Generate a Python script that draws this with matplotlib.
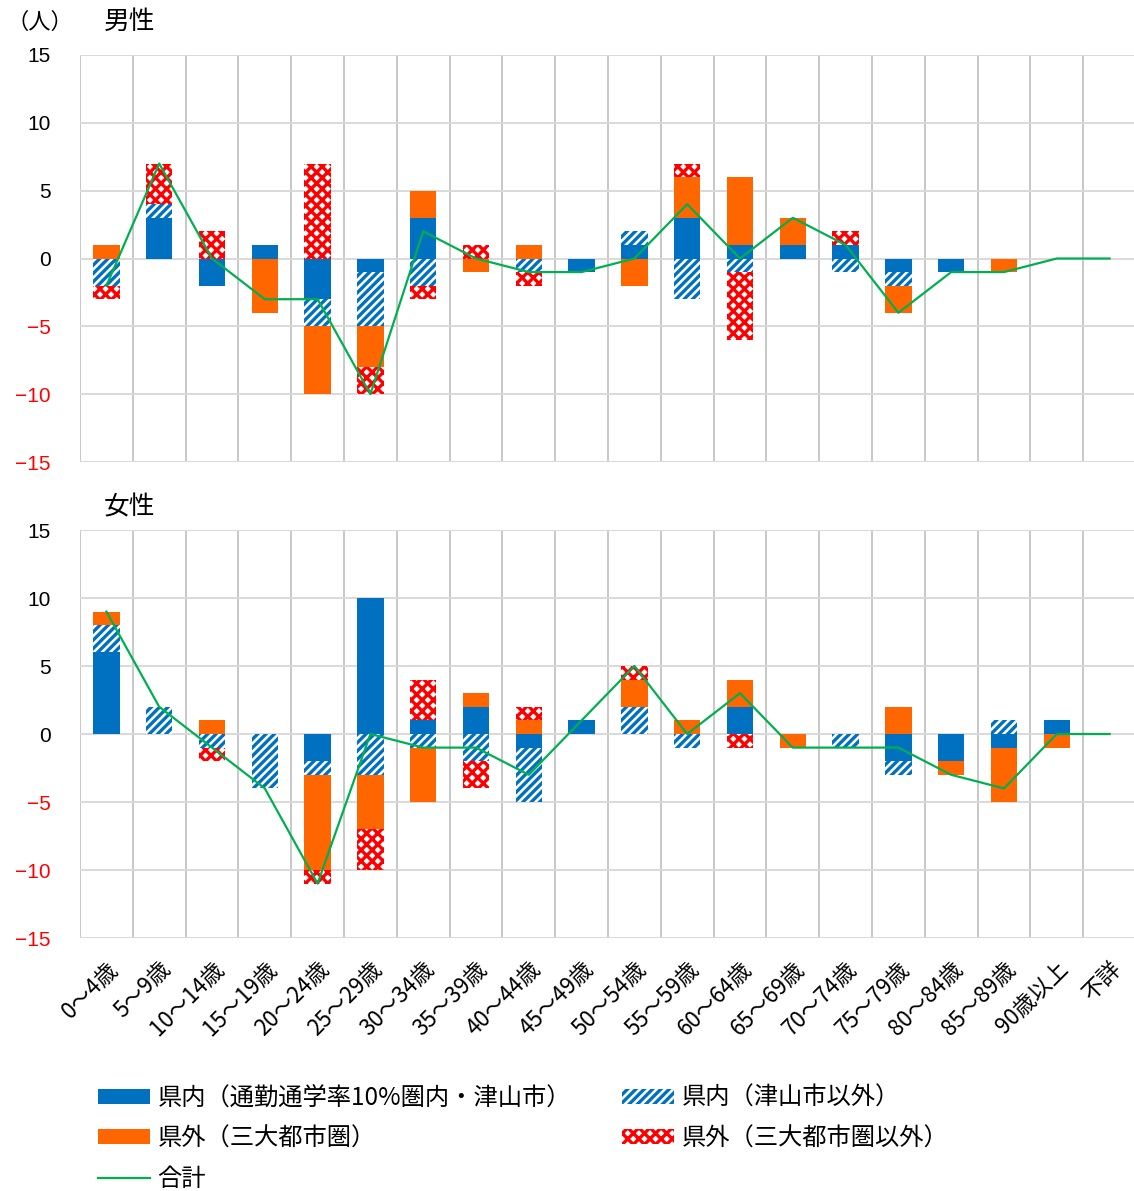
import numpy as np
import matplotlib.pyplot as plt
from matplotlib.patches import Patch
from matplotlib.lines import Line2D

plt.rcParams['font.family'] = ['Noto Sans CJK JP', 'DejaVu Sans']
plt.rcParams['hatch.linewidth'] = 2.4

ages = ['0～4歳', '5～9歳', '10～14歳', '15～19歳', '20～24歳', '25～29歳',
        '30～34歳', '35～39歳', '40～44歳', '45～49歳', '50～54歳', '55～59歳',
        '60～64歳', '65～69歳', '70～74歳', '75～79歳', '80～84歳', '85～89歳',
        '90歳以上', '不詳']

names = ['県内（通勤通学率10%圏内・津山市）', '県内（津山市以外）',
         '県外（三大都市圏）', '県外（三大都市圏以外）', '合計']

# male
m_near = [0, 3, -2, 1, -3, -1, 3, 0, 0, -1, 1, 3, 1, 1, 1, -1, -1, 0, 0, 0]
m_pref = [-2, 1, 0, 0, -2, -4, -2, 0, -1, 0, 1, -3, -1, 0, -1, -1, 0, 0, 0, 0]
m_metro = [1, 0, 0, -4, -5, -3, 2, -1, 1, 0, -2, 3, 5, 2, 0, -2, 0, -1, 0, 0]
m_other = [-1, 3, 2, 0, 7, -2, -1, 1, -1, 0, 0, 1, -5, 0, 1, 0, 0, 0, 0, 0]
m_total = [-2, 7, 0, -3, -3, -10, 2, 0, -1, -1, 0, 4, 0, 3, 1, -4, -1, -1, 0, 0]

# female
f_near = [6, 0, 0, 0, -2, 10, 1, 2, -1, 1, 0, 0, 2, 0, 0, -2, -2, -1, 1, 0]
f_pref = [2, 2, -1, -4, -1, -3, -1, -2, -4, 0, 2, -1, 0, 0, -1, -1, 0, 1, 0, 0]
f_metro = [1, 0, 1, 0, -7, -4, -4, 1, 1, 0, 2, 1, 2, -1, 0, 2, -1, -4, -1, 0]
f_other = [0, 0, -1, 0, -1, -3, 3, -2, 1, 0, 1, 0, -1, 0, 0, 0, 0, 0, 0, 0]
f_total = [9, 2, -1, -4, -11, 0, -1, -1, -3, 1, 5, 0, 3, -1, -1, -1, -3, -4, 0, 0]

blue = '#0070c0'
orange = '#ff6600'
red = '#ff0000'
green = '#00b050'

styles = [
    dict(color=blue, linewidth=0),
    dict(facecolor='white', edgecolor=blue, hatch='////', linewidth=0),
    dict(color=orange, linewidth=0),
    dict(facecolor='white', edgecolor=red, hatch='xxx', linewidth=0),
]


def draw_panel(ax, series, total):
    x = np.arange(len(ages))
    pos = np.zeros(len(ages))
    neg = np.zeros(len(ages))
    for vals, st in zip(series, styles):
        v = np.array(vals, dtype=float)
        base = np.where(v >= 0, pos, neg)
        ax.bar(x, v, bottom=base, width=0.5, zorder=2, **st)
        pos += np.where(v > 0, v, 0)
        neg += np.where(v < 0, v, 0)
    ax.plot(x, total, color=green, linewidth=1.6, zorder=3)

    ax.set_xlim(-0.5, len(ages) - 0.5)
    ax.set_ylim(-15, 15)
    yt = list(range(-15, 16, 5))
    ax.set_yticks(yt)
    ax.set_yticklabels([str(t).replace('-', '−') for t in yt],
                       family=['Liberation Sans', 'DejaVu Sans'], fontsize=15)
    for lab, t in zip(ax.get_yticklabels(), yt):
        lab.set_color(red if t < 0 else 'black')
    ax.set_xticks(x)
    ax.set_xticks(np.arange(-0.5, len(ages), 1), minor=True)
    ax.grid(axis='y', which='major', color='#d9d9d9', linewidth=1.4, zorder=0)
    ax.grid(axis='x', which='minor', color='#c8c8c8', linewidth=1.4, zorder=0)
    ax.set_axisbelow(True)
    for s in ax.spines.values():
        s.set_visible(False)
    ax.tick_params(axis='both', which='both', length=0)
    ax.tick_params(axis='y', pad=21)


fig = plt.figure(figsize=(11.34, 11.91), dpi=100)
ax1 = fig.add_axes([80 / 1134, 1 - 462 / 1191, 1056 / 1134, 407 / 1191])
ax2 = fig.add_axes([80 / 1134, 1 - 938 / 1191, 1056 / 1134, 408 / 1191])

draw_panel(ax1, [m_near, m_pref, m_metro, m_other], m_total)
draw_panel(ax2, [f_near, f_pref, f_metro, f_other], f_total)

ax1.set_xticklabels([])
ax2.set_xticklabels(ages, rotation=45, ha='right', rotation_mode='anchor', fontsize=16)
ax2.tick_params(axis='x', pad=14)

fig.text(6 / 1134, 1 - 22 / 1191, '（人）', fontsize=16, va='center', ha='left')
fig.text(104 / 1134, 1 - 22 / 1191, '男性', fontsize=18.5, va='center', ha='left')
fig.text(104 / 1134, 1 - 507 / 1191, '女性', fontsize=18.5, va='center', ha='left')

handles = [
    Patch(**styles[0]),
    Patch(**styles[2]),
    Line2D([], [], color=green, linewidth=1.6),
    Patch(**styles[1]),
    Patch(**styles[3]),
]
labels = [names[0], names[2], names[4], names[1], names[3]]

fig.legend(handles, labels, ncol=2, loc='upper left',
           bbox_to_anchor=(76 / 1134, 1 - 1063 / 1191), frameon=False,
           fontsize=17.5, handlelength=2.15, handleheight=0.58, handletextpad=0.3,
           labelspacing=0.6, columnspacing=2.1)

fig.savefig('out.png', dpi=100)
